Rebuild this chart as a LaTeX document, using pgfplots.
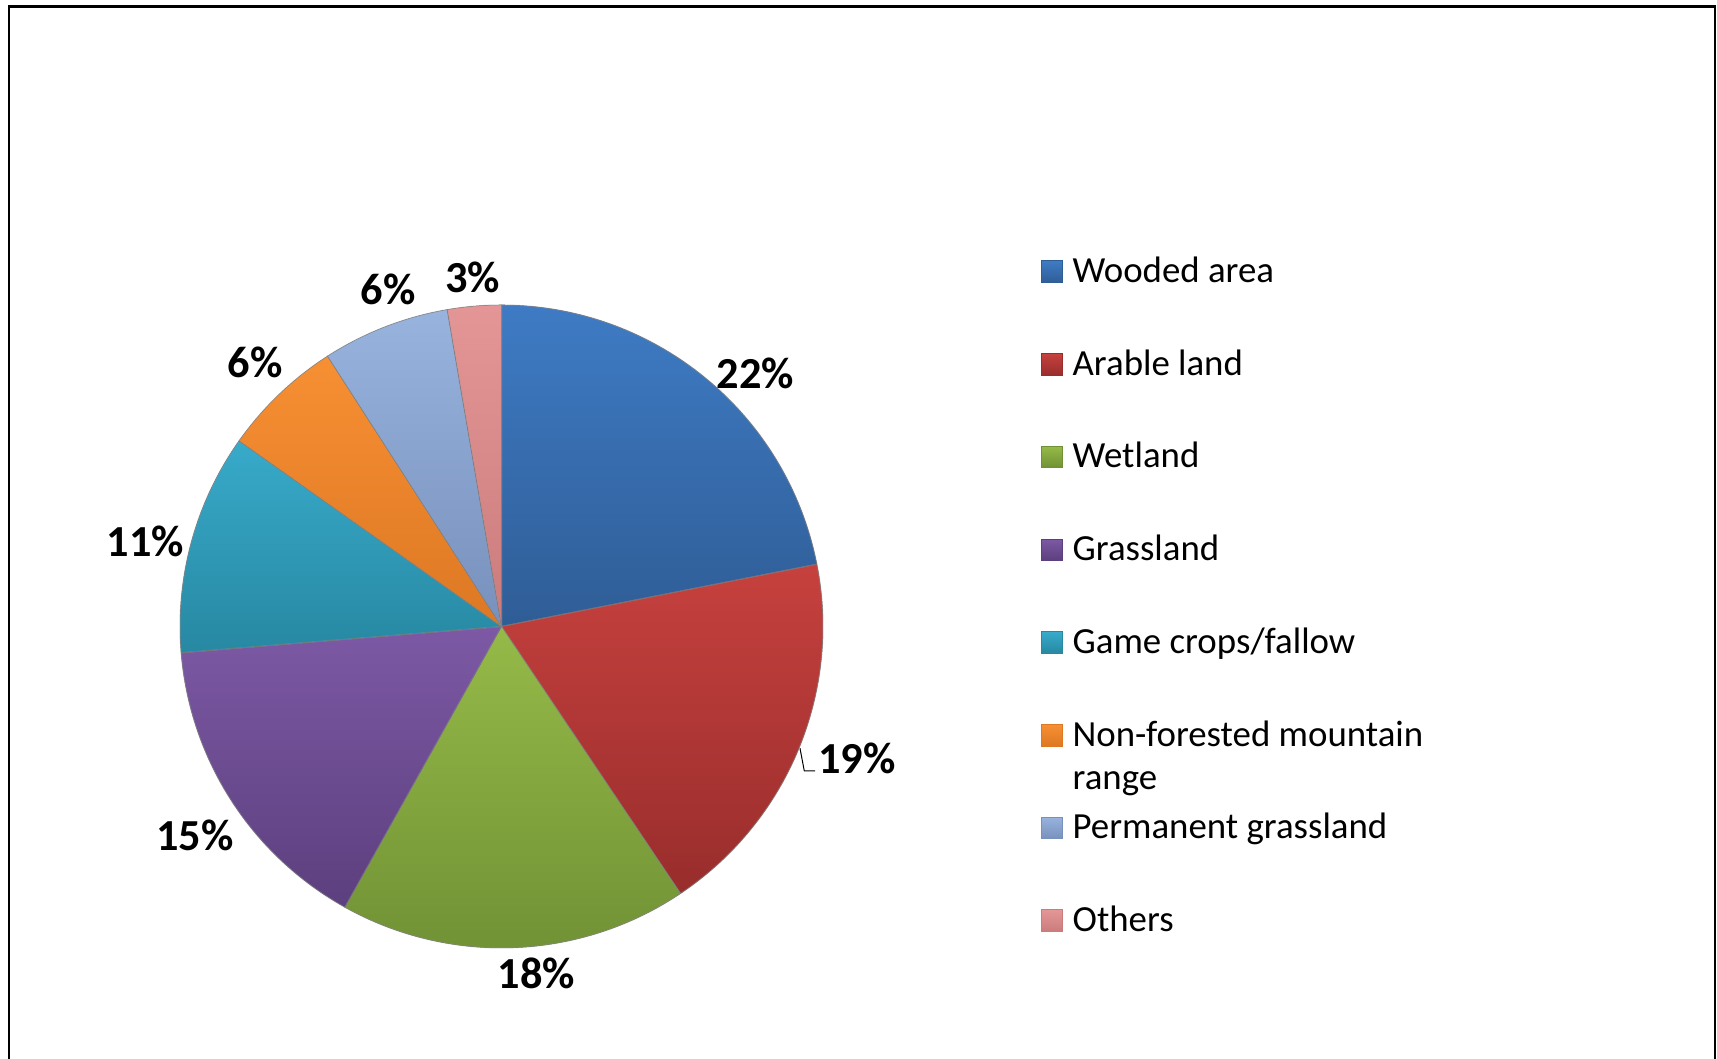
\documentclass[border=0pt]{standalone}
\usepackage{pgfplots}
\pgfplotsset{compat=1.18}
\usepackage{pgfplotstable}
\usepackage{fontspec}
\setmainfont{Carlito}

\definecolor{ct0}{HTML}{3E7BC4}\definecolor{cb0}{HTML}{2F5D96}
\definecolor{ct1}{HTML}{C6413E}\definecolor{cb1}{HTML}{982D2C}
\definecolor{ct2}{HTML}{95BA48}\definecolor{cb2}{HTML}{6F9034}
\definecolor{ct3}{HTML}{7D59A5}\definecolor{cb3}{HTML}{5C3F7E}
\definecolor{ct4}{HTML}{38AACA}\definecolor{cb4}{HTML}{2788A2}
\definecolor{ct5}{HTML}{F78F33}\definecolor{cb5}{HTML}{DD7823}
\definecolor{ct6}{HTML}{97B3DE}\definecolor{cb6}{HTML}{7890BC}
\definecolor{ct7}{HTML}{E49696}\definecolor{cb7}{HTML}{CB7B7B}

% share, printed label, label position (px from top-left), legend entry
\pgfplotstableread[col sep=comma]{
value,pct,lx,ly,name
21.9,22,755.6,373.4,Wooded area
18.7,19,856.7,758.3,Arable land
17.5,18,536.6,973.5,Wetland
15.6,15,195.0,835.5,Grassland
11.1,11,145.6,541.0,Game crops/fallow
6.1,6,255.0,362.5,Non-forested mountain
6.4,6,388.0,289.0,Permanent grassland
2.7,3,472.5,277.0,Others
}\piedata

\begin{document}
\begin{tikzpicture}
\begin{axis}[x=0.3pt, y=0.3pt, xmin=0, xmax=1717, ymin=0, ymax=1059,
  hide axis, clip=false]
\coordinate (LL) at (axis cs:0,0);
\coordinate (UR) at (axis cs:1717,1059);
% frame (open at the bottom)
\draw[line width=0.8pt] (axis cs:9,0) -- (axis cs:9,1052.3) -- (axis cs:1715,1052.3) -- (axis cs:1715,0);
% pie slices
\def\startang{90}
\pgfplotsforeachungrouped \i in {0,...,7}{%
  \pgfplotstablegetelem{\i}{value}\of\piedata \let\val\pgfplotsretval
  \pgfplotstablegetelem{\i}{pct}\of\piedata \let\pct\pgfplotsretval
  \pgfplotstablegetelem{\i}{lx}\of\piedata \let\lx\pgfplotsretval
  \pgfplotstablegetelem{\i}{ly}\of\piedata \let\ly\pgfplotsretval
  \pgfmathsetmacro\endang{\startang-3.6*\val}
  \pgfmathsetmacro\lyy{1059-\ly}
  \edef\cmd{%
    \noexpand\fill[top color=ct\i, bottom color=cb\i, draw=black!45, draw opacity=0.6, line width=0.3pt, line join=round]
      (axis cs:501.5,432.5) -- ++(\startang:96.45pt)
      arc[start angle=\startang, end angle=\endang, radius=96.45pt] -- cycle;
    \noexpand\node[font=\noexpand\bfseries\noexpand\fontsize{13.3}{16}\noexpand\selectfont, inner sep=0pt, text depth=0pt]
      at (axis cs:\lx,\lyy) {\pct\noexpand\%};
  }%
  \cmd
  \global\let\startang\endang
}
% leader line for 19%
\draw[line width=0.3pt] (axis cs:800,310.7) -- (axis cs:804.3,288) -- (axis cs:815,288);
% legend
\pgfplotsforeachungrouped \i in {0,...,7}{%
  \pgfplotstablegetelem{\i}{name}\of\piedata \let\nm\pgfplotsretval
  \pgfmathsetmacro\cy{1059-(271.8+92.7*\i)}
  \pgfmathsetmacro\ya{\cy-10.8}
  \pgfmathsetmacro\yb{\cy+10.8}
  \edef\cmd{%
    \noexpand\fill[top color=ct\i, bottom color=cb\i, draw=cb\i, line width=0.3pt]
      (axis cs:1041,\ya) rectangle (axis cs:1062.5,\yb);
    \noexpand\node[anchor=base west, inner sep=0pt, font=\noexpand\fontsize{11.05}{13.5}\noexpand\selectfont]
      at (axis cs:1072,\ya) {\nm};
  }%
  \cmd
}
\node[anchor=base west, inner sep=0pt, font=\fontsize{11.05}{13.5}\selectfont]
  at (axis cs:1072,269) {range};
\end{axis}
\pgfresetboundingbox
\useasboundingbox (LL) rectangle (UR);
\end{tikzpicture}
\end{document}
